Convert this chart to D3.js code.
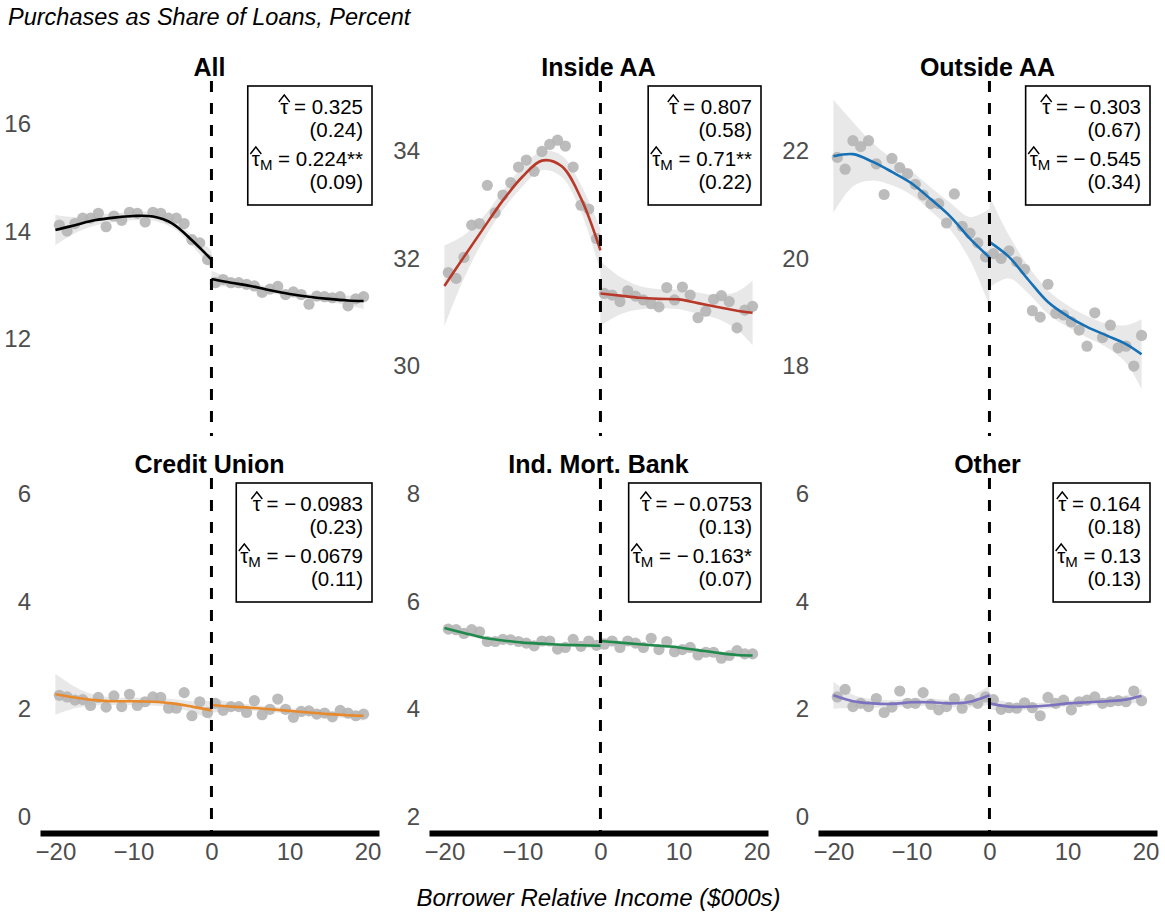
<!DOCTYPE html>
<html>
<head>
<meta charset="utf-8">
<script src="https://cdn.jsdelivr.net/npm/d3@7"></script>
<style>
  body { margin: 0; background: #fff; }
  text { font-family: "Liberation Sans", Arial, Helvetica, sans-serif; white-space: pre; }
</style>
</head>
<body>
<svg id="chart" width="1165" height="915"></svg>
<script>
// ---- Panels ----
const panelNames = ["All", "Inside AA", "Outside AA", "Credit Union", "Ind. Mort. Bank", "Other"];
const lineColors = ["#000000", "#b8392a", "#1670b5", "#e8892b", "#1f8a4c", "#7a72be"];
const yLimits = [[10.5, 16.5], [29, 35], [17, 23], [0, 6], [2, 8], [0, 6]];
const yTicks = [[12, 14, 16], [30, 32, 34], [18, 20, 22], [0, 2, 4, 6], [2, 4, 6, 8], [0, 2, 4, 6]];
const xTicks = [-20, -10, 0, 10, 20];

// ---- Binned means (x = bin centres, $000s) ----
const binsLeft = [-19.5, -18.5, -17.5, -16.5, -15.5, -14.5, -13.5, -12.5, -11.5, -10.5,
                  -9.5, -8.5, -7.5, -6.5, -5.5, -4.5, -3.5, -2.5, -1.5, -0.5];
const binsRight = [0.5, 1.5, 2.5, 3.5, 4.5, 5.5, 6.5, 7.5, 8.5, 9.5,
                   10.5, 11.5, 12.5, 13.5, 14.5, 15.5, 16.5, 17.5, 18.5, 19.5];

const allPtsL = [14.12, 14.01, 14.15, 14.25, 14.25, 14.34, 14.09, 14.29, 14.21, 14.36, 14.34, 14.18, 14.36, 14.34, 14.25, 14.25, 14.15, 13.85, 13.79, 13.48];
const allPtsR = [13.05, 13.11, 13.05, 13.05, 13.02, 12.99, 12.87, 12.93, 12.98, 12.83, 12.88, 12.83, 12.65, 12.80, 12.79, 12.77, 12.79, 12.62, 12.75, 12.79];
const insPtsL = [31.74, 31.63, 32.02, 32.62, 32.65, 33.36, 32.85, 33.18, 33.41, 33.70, 33.83, 33.62, 33.99, 34.12, 34.20, 34.09, 33.70, 32.99, 32.92, 32.37];
const insPtsR = [31.35, 31.32, 31.20, 31.40, 31.30, 31.23, 31.16, 31.10, 31.46, 31.23, 31.47, 31.32, 30.90, 31.02, 31.24, 31.31, 31.20, 30.71, 31.04, 31.11];
const outPtsL = [21.88, 21.66, 22.19, 22.08, 22.19, 21.76, 21.19, 21.86, 21.69, 21.58, 21.38, 21.18, 21.02, 21.02, 20.66, 21.20, 20.60, 20.47, 20.29, 20.03];
const outPtsR = [20.09, 20.00, 20.14, 19.94, 19.80, 19.03, 18.91, 19.52, 18.98, 18.95, 18.82, 18.67, 18.37, 18.99, 18.53, 18.76, 18.34, 18.37, 18.00, 18.57];
const cuPtsL = [2.26, 2.23, 2.17, 2.18, 2.07, 2.22, 2.04, 2.25, 2.05, 2.28, 2.07, 2.14, 2.23, 2.22, 2.02, 2.02, 2.31, 1.88, 2.14, 1.94];
const cuPtsR = [2.11, 1.98, 2.05, 2.05, 1.94, 2.16, 1.90, 2.00, 2.19, 2.00, 1.85, 1.96, 1.97, 1.91, 1.93, 1.86, 1.98, 1.93, 1.88, 1.91];
const imbPtsL = [5.49, 5.48, 5.41, 5.48, 5.44, 5.26, 5.26, 5.30, 5.29, 5.26, 5.23, 5.18, 5.27, 5.27, 5.12, 5.15, 5.30, 5.17, 5.27, 5.19];
const imbPtsR = [5.21, 5.27, 5.15, 5.27, 5.23, 5.15, 5.32, 5.11, 5.26, 5.07, 5.11, 5.15, 5.01, 5.06, 5.06, 4.95, 5.00, 5.09, 5.03, 5.03];
const othPtsL = [2.23, 2.37, 2.05, 2.11, 2.05, 2.20, 1.94, 2.04, 2.34, 2.11, 2.11, 2.31, 2.09, 1.99, 2.05, 2.20, 2.02, 2.18, 2.11, 2.23];
const othPtsR = [2.18, 2.00, 2.03, 2.02, 2.12, 2.03, 1.88, 2.22, 2.11, 2.17, 1.99, 2.14, 2.17, 2.23, 2.11, 2.14, 2.16, 2.14, 2.34, 2.16];

// ---- Local fits on each side of the cutoff, with confidence half-widths ----
const knotsLeft = [-20, -17.5, -15, -12.5, -10, -7.5, -5, -2.5, 0];
const knotsRight = [0, 2.5, 5, 7.5, 10, 12.5, 15, 17.5, 19.5];

const allFitL = [14.03, 14.12, 14.21, 14.26, 14.29, 14.28, 14.15, 13.84, 13.48];
const allFitR = [13.12, 13.05, 12.99, 12.91, 12.84, 12.79, 12.75, 12.72, 12.71];
const allSeL = [0.28, 0.15, 0.10, 0.08, 0.08, 0.08, 0.08, 0.10, 0.17];
const allSeR = [0.15, 0.08, 0.06, 0.05, 0.05, 0.05, 0.06, 0.09, 0.15];

const insFitL = [31.49, 32.03, 32.56, 33.08, 33.52, 33.82, 33.72, 33.12, 32.15];
const insFitR = [31.35, 31.31, 31.27, 31.25, 31.24, 31.17, 31.10, 31.03, 30.99];
const insSeL = [0.75, 0.40, 0.22, 0.18, 0.18, 0.18, 0.20, 0.25, 0.40];
const insSeR = [0.60, 0.35, 0.22, 0.18, 0.18, 0.20, 0.22, 0.35, 0.60];

const outFitL = [21.90, 21.94, 21.80, 21.61, 21.40, 21.10, 20.78, 20.37, 20.02];
const outFitR = [20.31, 20.03, 19.60, 19.19, 18.93, 18.73, 18.57, 18.41, 18.22];
const outSeL = [1.05, 0.60, 0.35, 0.25, 0.22, 0.22, 0.25, 0.40, 0.90];
const outSeR = [0.85, 0.40, 0.25, 0.22, 0.20, 0.20, 0.22, 0.35, 0.65];

const cuFitL = [2.28, 2.22, 2.17, 2.15, 2.15, 2.14, 2.11, 2.05, 1.98];
const cuFitR = [2.08, 2.05, 2.03, 2.00, 1.97, 1.94, 1.91, 1.89, 1.88];
const cuSeL = [0.38, 0.20, 0.10, 0.07, 0.07, 0.07, 0.08, 0.10, 0.18];
const cuSeR = [0.14, 0.08, 0.06, 0.05, 0.05, 0.05, 0.05, 0.06, 0.09];

const imbFitL = [5.51, 5.42, 5.33, 5.28, 5.24, 5.22, 5.20, 5.19, 5.18];
const imbFitR = [5.27, 5.24, 5.21, 5.18, 5.15, 5.10, 5.05, 5.01, 5.00];
const imbSeL = [0.08, 0.05, 0.03, 0.03, 0.03, 0.03, 0.03, 0.04, 0.06];
const imbSeR = [0.07, 0.04, 0.03, 0.03, 0.03, 0.03, 0.03, 0.04, 0.06];

const othFitL = [2.26, 2.15, 2.11, 2.10, 2.13, 2.13, 2.11, 2.14, 2.26];
const othFitR = [2.11, 2.05, 2.05, 2.07, 2.11, 2.13, 2.15, 2.18, 2.25];
const othSeL = [0.25, 0.12, 0.08, 0.07, 0.07, 0.07, 0.07, 0.10, 0.18];
const othSeR = [0.12, 0.08, 0.06, 0.06, 0.06, 0.06, 0.06, 0.08, 0.13];

// ---- Discontinuity estimates (standard errors in parentheses) ----
const tauHat = [0.325, 0.807, -0.303, -0.0983, -0.0753, 0.164];
const tauHatSE = [0.24, 0.58, 0.67, 0.23, 0.13, 0.18];
const tauM = [0.224, 0.71, -0.545, -0.0679, -0.163, 0.13];
const tauMStars = ["**", "**", "", "", "*", ""];
const tauMSE = [0.09, 0.22, 0.34, 0.11, 0.07, 0.13];

const pointsLeft = [allPtsL, insPtsL, outPtsL, cuPtsL, imbPtsL, othPtsL];
const pointsRight = [allPtsR, insPtsR, outPtsR, cuPtsR, imbPtsR, othPtsR];
const fitLeft = [allFitL, insFitL, outFitL, cuFitL, imbFitL, othFitL];
const fitRight = [allFitR, insFitR, outFitR, cuFitR, imbFitR, othFitR];
const seLeft = [allSeL, insSeL, outSeL, cuSeL, imbSeL, othSeL];
const seRight = [allSeR, insSeR, outSeR, cuSeR, imbSeR, othSeR];

// ---- Layout ----
const svg = d3.select("#chart");
const panelW = 339, panelH = 355;
const panelX0 = 40, panelDX = 389;
const panelY0 = 81, panelDY = 397;
const xDomain = [-21.975, 21.475];

const fmtNum = v => (v < 0 ? "\u2212\u2009" : "") + String(Math.abs(v));
const fmtSE = v => "(" + v.toFixed(2) + ")";

svg.append("text")
  .attr("x", 8).attr("y", 25)
  .attr("font-size", 23.5).attr("font-style", "italic")
  .attr("fill", "#000")
  .text("Purchases as Share of Loans, Percent");

svg.append("text")
  .attr("x", 598.5).attr("y", 906)
  .attr("text-anchor", "middle")
  .attr("font-size", 24).attr("font-style", "italic")
  .attr("fill", "#000")
  .text("Borrower Relative Income ($000s)");

const smooth = d3.curveCatmullRom.alpha(0.5);

panelNames.forEach((name, i) => {
  const row = Math.floor(i / 3), col = i % 3;
  const left = panelX0 + col * panelDX;
  const top = panelY0 + row * panelDY;
  const g = svg.append("g").attr("transform", `translate(${left},${top})`);

  const x = d3.scaleLinear().domain(xDomain).range([0, panelW]);
  const [lo, hi] = yLimits[i];
  const pad = (hi - lo) * 0.05;
  const y = d3.scaleLinear().domain([lo - pad, hi + pad]).range([panelH, 0]);

  // strip title
  svg.append("text")
    .attr("x", left + panelW / 2).attr("y", top - 5)
    .attr("text-anchor", "middle")
    .attr("font-size", 25).attr("font-weight", "bold")
    .attr("fill", "#000")
    .text(name);

  // y axis labels
  const yAxis = g.append("g")
    .call(d3.axisLeft(y).tickValues(yTicks[i]).tickSize(0).tickPadding(9).tickFormat(d3.format("d")));
  yAxis.select(".domain").remove();
  yAxis.selectAll("text")
    .attr("font-size", 24)
    .attr("font-family", "'Liberation Sans', Arial, sans-serif")
    .attr("fill", "#4d4d4d");

  // x axis only on the bottom row
  if (row === 1) {
    const xAxis = g.append("g")
      .attr("transform", `translate(0,${panelH})`)
      .call(d3.axisBottom(x).tickValues(xTicks).tickSize(0).tickSizeOuter(0).tickPadding(10).tickFormat(d3.format("d")));
    xAxis.select(".domain").attr("stroke", "#000").attr("stroke-width", 6);
    xAxis.selectAll("text")
      .attr("font-size", 24)
      .attr("font-family", "'Liberation Sans', Arial, sans-serif")
      .attr("fill", "#4d4d4d");
  }

  // confidence bands and fitted curves, one per side of the cutoff
  const sides = [
    { knots: knotsLeft, fit: fitLeft[i], se: seLeft[i] },
    { knots: knotsRight, fit: fitRight[i], se: seRight[i] }
  ];
  const area = d3.area()
    .x(d => x(d.x)).y0(d => y(d.fit - d.se)).y1(d => y(d.fit + d.se))
    .curve(smooth);
  const line = d3.line()
    .x(d => x(d.x)).y(d => y(d.fit))
    .curve(smooth);

  const sideData = sides.map(s => s.knots.map((k, j) => ({ x: k, fit: s.fit[j], se: s.se[j] })));

  sideData.forEach(sd => {
    g.append("path").datum(sd)
      .attr("d", area)
      .attr("fill", "#d6d6d6").attr("fill-opacity", 0.55);
  });

  // binned means
  const pts = binsLeft.map((b, j) => ({ x: b, v: pointsLeft[i][j] }))
    .concat(binsRight.map((b, j) => ({ x: b, v: pointsRight[i][j] })));
  g.append("g").selectAll("circle").data(pts).join("circle")
    .attr("cx", d => x(d.x)).attr("cy", d => y(d.v)).attr("r", 5.6)
    .attr("fill", "#b5b5b5").attr("fill-opacity", 0.9);

  sideData.forEach(sd => {
    g.append("path").datum(sd)
      .attr("d", line)
      .attr("fill", "none")
      .attr("stroke", lineColors[i]).attr("stroke-width", 2.6);
  });

  // cutoff
  g.append("line")
    .attr("x1", x(0)).attr("x2", x(0))
    .attr("y1", 0).attr("y2", panelH)
    .attr("stroke", "#000").attr("stroke-width", 3)
    .attr("stroke-dasharray", "11,11");

  // estimate box
  const boxRight = panelW - 7;
  const boxTop = 5;
  const tx = boxRight - 9;
  const box = g.append("g");
  const rect = box.append("rect");
  const fs = 20.5;
  const baselines = [28, 51, 80, 103];

  const l1 = box.append("text").attr("x", tx).attr("y", boxTop + baselines[0])
    .attr("text-anchor", "end").attr("font-size", fs).attr("fill", "#000");
  l1.append("tspan").text("\u03c4");
  l1.append("tspan").text(" = " + fmtNum(tauHat[i]));

  box.append("text").attr("x", tx).attr("y", boxTop + baselines[1])
    .attr("text-anchor", "end").attr("font-size", fs).attr("fill", "#000")
    .text(fmtSE(tauHatSE[i]));

  const l3 = box.append("text").attr("x", tx).attr("y", boxTop + baselines[2])
    .attr("text-anchor", "end").attr("font-size", fs).attr("fill", "#000");
  l3.append("tspan").text("\u03c4");
  l3.append("tspan").attr("font-size", 15).attr("dy", 4).text("M");
  l3.append("tspan").attr("dy", -4).text(" = " + fmtNum(tauM[i]) + tauMStars[i]);

  box.append("text").attr("x", tx).attr("y", boxTop + baselines[3])
    .attr("text-anchor", "end").attr("font-size", fs).attr("fill", "#000")
    .text(fmtSE(tauMSE[i]));

  // hats over the tau glyphs
  [[l1, boxTop + baselines[0]], [l3, boxTop + baselines[2]]].forEach(([t, base]) => {
    const ext = t.node().getExtentOfChar(0);
    const cx = ext.x + ext.width / 2;
    box.append("path")
      .attr("d", `M${cx - 5.5},${base - 12}L${cx},${base - 19}L${cx + 5.5},${base - 12}`)
      .attr("fill", "none").attr("stroke", "#000").attr("stroke-width", 1.4);
  });

  let minX = Infinity;
  box.selectAll("text").each(function () {
    const bb = this.getBBox();
    minX = Math.min(minX, bb.x);
  });
  rect.attr("x", minX - 4).attr("y", boxTop)
    .attr("width", boxRight - (minX - 4)).attr("height", 119)
    .attr("fill", "#fff").attr("stroke", "#000").attr("stroke-width", 1.6);
});
</script>
</body>
</html>
